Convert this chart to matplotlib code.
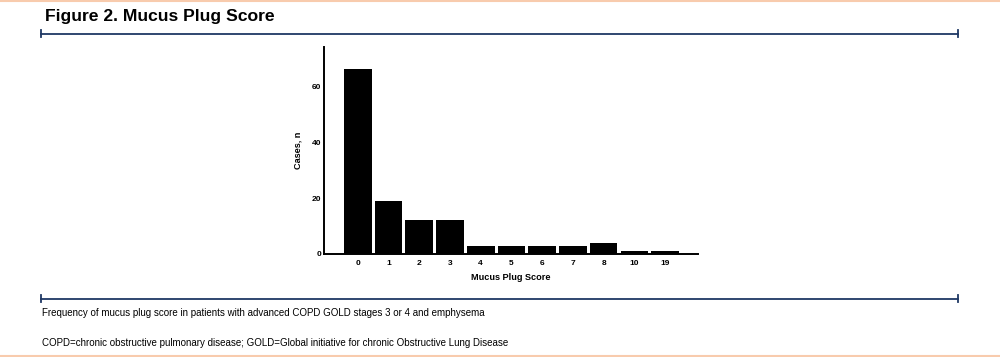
import numpy as np
import matplotlib
matplotlib.use('Agg')
from matplotlib import pyplot as plt
from matplotlib.lines import Line2D

plt.rcParams['font.family'] = ['Liberation Sans', 'DejaVu Sans']

# data
scores = ['0', '1', '2', '3', '4', '5', '6', '7', '8', '10', '19']
cases = [66, 19, 12, 12, 3, 3, 3, 3, 4, 1, 1]

title = 'Figure 2. Mucus Plug Score'
note1 = 'Frequency of mucus plug score in patients with advanced COPD GOLD stages 3 or 4 and emphysema'
note2 = 'COPD=chronic obstructive pulmonary disease; GOLD=Global initiative for chronic Obstructive Lung Disease'

W, H = 1000, 357
navy = '#1F3864'
peach = '#F8CBAD'

fig = plt.figure(figsize=(W / 100, H / 100), dpi=100)


def fx(px):
    return px / W


def fy(py):
    return 1 - py / H


# peach border lines top and bottom
fig.add_artist(Line2D([0, 1], [fy(0.8), fy(0.8)], color=peach, lw=1.5))
fig.add_artist(Line2D([0, 1], [fy(355.5), fy(355.5)], color=peach, lw=1.5))

# navy rules with end caps
for y in (33.5, 298.5):
    fig.add_artist(Line2D([fx(41), fx(958)], [fy(y), fy(y)], color=navy, lw=1.3))
    for x in (41, 958):
        fig.add_artist(Line2D([fx(x), fx(x)], [fy(y - 3.5), fy(y + 3.5)], color=navy, lw=1.3))

fig.text(fx(45), fy(17), title, fontsize=12.6, fontweight='bold', va='center', ha='left')
fig.text(fx(42), fy(313), note1, fontsize=7.0, va='center', ha='left')
fig.text(fx(42), fy(343), note2, fontsize=7.0, va='center', ha='left')

ax = fig.add_axes([fx(324), fy(254), fx(698) - fx(324), fy(47) - fy(254)])
x = np.arange(len(scores))
ax.bar(x, cases, width=0.9, color='black', edgecolor='none', zorder=1)
ax.set_xlim(-1.1, 11.07)
ax.set_ylim(0, 74)
ax.set_yticks([0, 20, 40, 60])
ax.set_xticks(x)
ax.set_xticklabels(scores)
for s in ('top', 'right'):
    ax.spines[s].set_visible(False)
for s in ('left', 'bottom'):
    ax.spines[s].set_linewidth(1.4)
    ax.spines[s].set_zorder(3)
ax.tick_params(axis='both', length=0, labelsize=6)
ax.tick_params(axis='x', pad=4)
ax.tick_params(axis='y', pad=2)
for lbl in ax.get_xticklabels() + ax.get_yticklabels():
    lbl.set_fontweight('bold')
ax.set_xlabel('Mucus Plug Score', fontsize=6.6, fontweight='bold', labelpad=5)
ax.set_ylabel('Cases, n', fontsize=6.6, fontweight='bold', labelpad=7)

fig.savefig('out.png', dpi=100)
